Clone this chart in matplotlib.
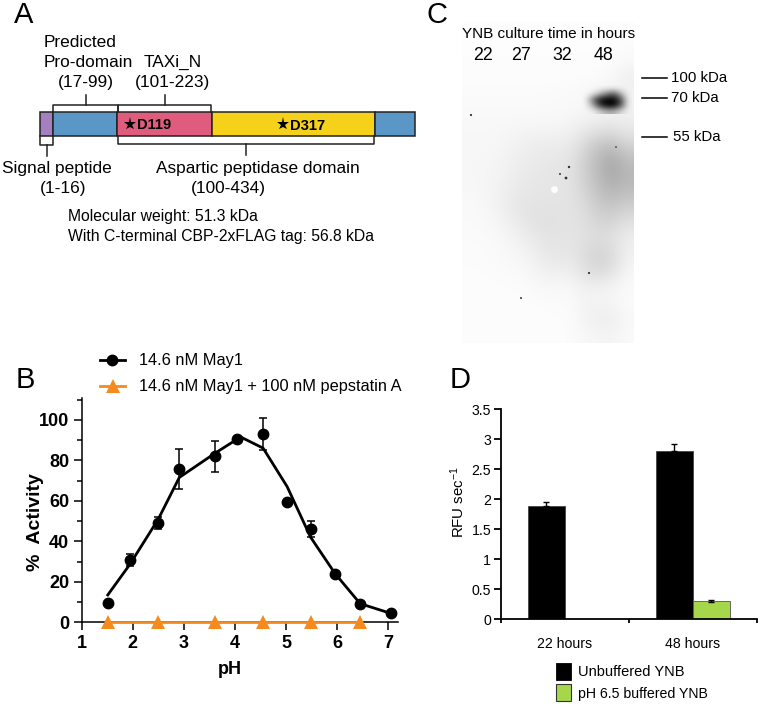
import matplotlib
matplotlib.use("Agg")
import matplotlib.pyplot as plt
import numpy as np
from matplotlib.patches import Rectangle

plt.rcParams["font.family"] = ["Liberation Sans", "DejaVu Sans"]
plt.rcParams["mathtext.default"] = "regular"

W, H = 760, 704

# Panel A - domain map, in residues
dom_start = [1, 17, 101, 224, 435]
dom_end = [17, 101, 224, 435, 487]
dom_colors = ["#A580BE", "#5B97C6", "#E05C7E", "#F6D11A", "#5B97C6"]

# Panel B - activity vs pH
ph = [1.51, 1.94, 2.50, 2.91, 3.61, 4.04, 4.55, 5.02, 5.48, 5.96, 6.45, 7.05]
activity = [9.7, 30.8, 48.9, 75.8, 81.9, 90.6, 93.0, 59.5, 46.0, 23.8, 9.2, 4.4]
activity_err = [0, 3, 3, 10, 7.7, 1, 7.7, 1, 3.8, 0, 0, 0]
fit_ph = [1.51, 1.94, 2.50, 2.91, 3.61, 4.11, 4.55, 5.02, 5.48, 5.96, 6.45, 7.05]
fit_activity = [13.5, 28.5, 51, 71.5, 83.5, 91.5, 86, 67, 42, 24, 9.2, 4.4]
pep_ph = [1.51, 2.50, 3.61, 4.55, 5.48, 6.45]
pep_activity = [0, 0, 0, 0, 0, 0]

# Panel C - blot darkness on a coarse grid, 0 = white
blot = [
    [2, 2, 2, 2, 2, 2, 2, 2, 2, 2, 2, 3],
    [3, 3, 3, 3, 3, 3, 3, 3, 3, 3, 3, 4],
    [3, 3, 3, 3, 3, 3, 3, 3, 3, 3, 4, 6],
    [3, 3, 3, 3, 3, 3, 3, 3, 4, 5, 8, 18],
    [5, 5, 5, 5, 5, 5, 6, 6, 8, 10, 12, 12],
    [6, 6, 6, 6, 6, 6, 6, 7, 8, 12, 14, 14],
    [8, 8, 8, 9, 9, 10, 10, 12, 18, 22, 24, 20],
    [8, 8, 9, 12, 16, 18, 18, 20, 34, 52, 56, 38],
    [9, 9, 11, 15, 20, 22, 24, 26, 46, 70, 85, 64],
    [9, 9, 12, 17, 22, 24, 26, 28, 46, 68, 88, 72],
    [8, 10, 14, 20, 24, 26, 26, 28, 42, 62, 74, 66],
    [6, 8, 14, 22, 28, 28, 28, 28, 35, 52, 58, 48],
    [6, 7, 10, 18, 26, 30, 30, 28, 32, 42, 42, 30],
    [5, 5, 7, 12, 18, 26, 28, 26, 30, 35, 30, 18],
    [4, 5, 6, 8, 12, 20, 26, 24, 35, 45, 38, 15],
    [4, 4, 5, 6, 8, 14, 18, 16, 30, 40, 30, 10],
    [3, 3, 4, 4, 5, 8, 8, 8, 15, 14, 12, 6],
    [3, 3, 3, 3, 4, 4, 5, 5, 12, 12, 10, 5],
    [3, 3, 3, 3, 3, 3, 4, 4, 12, 18, 18, 8],
    [3, 3, 3, 3, 3, 3, 3, 4, 8, 10, 12, 6],
]
band = [
    [0, 0, 0, 0, 0, 0, 0],
    [0, 10, 60, 120, 160, 60, 0],
    [0, 130, 235, 255, 255, 170, 0],
    [0, 70, 200, 255, 255, 160, 0],
    [0, 0, 30, 60, 60, 20, 0],
]
spot_x = [471, 569, 560, 566, 589, 521, 616]
spot_y = [115, 167, 174, 178, 273, 298, 147]
spot_s = [2.5, 3, 2, 4, 2.5, 2, 1.5]
marker_y = [78, 98, 137]
marker_labels = ["100 kDa", "70 kDa", "55 kDa"]
lanes = ["22", "27", "32", "48"]
lane_x = [483, 521, 562, 603]

# Panel D - activity bars
groups = ["22 hours", "48 hours"]
unbuffered = [1.89, 2.81]
unbuffered_err = [0.06, 0.11]
buffered = [np.nan, 0.31]
buffered_err = [np.nan, 0.02]

fig = plt.figure(figsize=(W / 100, H / 100), dpi=100)


def add_axes_px(left, top, right, bottom):
    return fig.add_axes([left / W, 1 - bottom / H, (right - left) / W, (bottom - top) / H])


# overlay in pixel coordinates, for the schematic and the labels
ov = fig.add_axes([0, 0, 1, 1], zorder=5)
ov.set_xlim(0, W)
ov.set_ylim(H, 0)
ov.axis("off")
ov.patch.set_alpha(0)


def res_px(r):
    return 40.3 + (r - 1) * 0.771


def label(x, y, s, size=12.4, ha="left", **kw):
    ov.text(x, y, s, fontsize=size, ha=ha, va="center", **kw)


# --- A
BAR_TOP, BAR_BOT = 112.3, 136.3
for a, b, c in zip(dom_start, dom_end, dom_colors):
    ov.add_patch(Rectangle((res_px(a), BAR_TOP), res_px(b) - res_px(a), BAR_BOT - BAR_TOP,
                           facecolor=c, edgecolor="#222222", linewidth=1.1))
bk = dict(color="#222222", linewidth=1.1)
ov.plot([53, 53, 118.3, 118.3], [BAR_TOP, 105.3, 105.3, BAR_TOP], **bk)
ov.plot([118.3, 118.3, 211.3, 211.3], [BAR_TOP, 105.3, 105.3, BAR_TOP], **bk)
ov.plot([85.7, 85.7], [95, 105.3], **bk)
ov.plot([165, 165], [95, 105.3], **bk)
ov.plot([40.3, 40.3, 53, 53], [BAR_BOT, 145, 145, BAR_BOT], **bk)
ov.plot([46.7, 46.7], [145, 156], **bk)
ov.plot([118.3, 118.3, 374.3, 374.3], [BAR_BOT, 144, 144, BAR_BOT], **bk)
ov.plot([246, 246], [144, 155], **bk)
ov.plot([130, 282.7], [124, 124], "*", color="black", markersize=9.5, markeredgewidth=0)
label(137.5, 125, "D119", size=10.6, fontweight="bold")
label(290, 125.5, "D317", size=10.6, fontweight="bold")

label(44, 42.7, "Predicted")
label(44, 62.7, "Pro-domain")
label(86, 83, "(17-99)", ha="center")
label(144, 62.7, "TAXi_N")
label(172, 83, "(101-223)", ha="center")
label(2, 168, "Signal peptide")
label(63, 188, "(1-16)", ha="center")
label(258, 168, "Aspartic peptidase domain", ha="center")
label(228, 189, "(100-434)", ha="center")
label(68, 217, "Molecular weight: 51.3 kDa", size=11.3)
label(68, 236, "With C-terminal CBP-2xFLAG tag: 56.8 kDa", size=11.3)

for x, y, s in [(14, 15, "A"), (16, 380, "B"), (427, 15, "C"), (450, 380, "D")]:
    label(x, y, s, size=21)

# --- B
ax_b = add_axes_px(81.7, 398.3, 398, 622.3)
ax_b.set_xlim(1, 1 + (398 - 81.7) / 51.1)
ax_b.set_ylim(0, 110.6)
ax_b.plot(fit_ph, fit_activity, color="black", linewidth=2, zorder=3)
err_x = [p for p, e in zip(ph, activity_err) if e > 0]
err_y = [a for a, e in zip(activity, activity_err) if e > 0]
err_v = [e for e in activity_err if e > 0]
ax_b.errorbar(err_x, err_y, yerr=err_v, fmt="none", ecolor="black", elinewidth=1.1,
              capsize=3.2, capthick=1.1, zorder=3)
ax_b.plot(ph, activity, "o", color="black", markersize=7.5, zorder=4, clip_on=False)
ax_b.plot(pep_ph, pep_activity, "-^", color="#F58A1F", markersize=10.5, linewidth=2,
          markeredgewidth=0, zorder=5, clip_on=False)
for side in ["top", "right"]:
    ax_b.spines[side].set_visible(False)
for side in ["left", "bottom"]:
    ax_b.spines[side].set_linewidth(1.1)
ax_b.set_xticks(range(1, 8))
ax_b.set_yticks(range(0, 101, 20))
ax_b.set_yticks(range(10, 111, 20), minor=True)
ax_b.tick_params(axis="both", which="major", length=6, width=1.1, labelsize=13, pad=3)
ax_b.tick_params(axis="y", which="minor", length=3.5, width=1.1)
for t in ax_b.get_xticklabels() + ax_b.get_yticklabels():
    t.set_fontweight("bold")
label(230, 669, "pH", size=13, ha="center", fontweight="bold")
ov.text(35, 522, "%  Activity", fontsize=14, fontweight="bold", rotation=90,
        ha="center", va="center")

ov.plot([100, 125], [360, 360], color="black", linewidth=2)
ov.plot([112], [360], "o", color="black", markersize=7.5)
ov.plot([100, 125], [386, 386], color="#F58A1F", linewidth=2)
ov.plot([113], [386], "^", color="#F58A1F", markersize=10.5, markeredgewidth=0)
label(139, 360, "14.6 nM May1", size=11.8)
label(139, 386, "14.6 nM May1 + 100 nM pepstatin A", size=11.8)

# --- C
ax_c = add_axes_px(462, 22, 634, 343)
ax_c.imshow(blot, cmap="gray_r", vmin=0, vmax=255, aspect="auto", interpolation="bicubic",
            extent=(462, 634, 343, 22))
band_rgba = np.zeros((len(band), len(band[0]), 4))
band_rgba[..., 3] = np.array(band) / 255
ax_c.imshow(band_rgba, aspect="auto", interpolation="bicubic", extent=(582, 632, 114, 85))
ax_c.scatter(spot_x, spot_y, s=spot_s, color="#333333", linewidths=0)
ax_c.scatter([554], [189], s=25, color="white", linewidths=0, alpha=0.9)
ax_c.set_xlim(462, 634)
ax_c.set_ylim(343, 22)
ax_c.axis("off")

label(549, 34, "YNB culture time in hours", size=11, ha="center")
for x, s in zip(lane_x, lanes):
    label(x, 55, s, size=12.8, ha="center")
for y, s, x in zip(marker_y, marker_labels, [671, 671, 673]):
    ov.plot([642, 667], [y, y], color="black", linewidth=1.1)
    label(x, y, s, size=10.8)

# --- D
ax_d = add_axes_px(501, 409.3, 756.7, 619.3)
x = np.arange(len(groups))
BAR_W = 0.29
ax_d.bar(x - BAR_W / 2, unbuffered, BAR_W, color="black", edgecolor="#444444", linewidth=0.6)
ax_d.bar(x + BAR_W / 2, buffered, BAR_W, color="#A6D64A", edgecolor="#555555", linewidth=0.6)
ax_d.errorbar(x - BAR_W / 2, unbuffered, yerr=[[0, 0], unbuffered_err], fmt="none",
              ecolor="black", elinewidth=1, capsize=2.5, capthick=1)
ax_d.errorbar(x + BAR_W / 2, buffered, yerr=buffered_err, fmt="none",
              ecolor="black", elinewidth=1, capsize=2, capthick=1)
ax_d.set_xlim(-0.5, 1.5)
ax_d.set_ylim(0, 3.5)
for side in ["top", "right"]:
    ax_d.spines[side].set_visible(False)
for side in ["left", "bottom"]:
    ax_d.spines[side].set_linewidth(1.3)
ax_d.set_yticks([0, 0.5, 1, 1.5, 2, 2.5, 3, 3.5])
ax_d.set_yticklabels(["0", "0.5", "1", "1.5", "2", "2.5", "3", "3.5"])
ax_d.set_xticks([-0.5, 0.5, 1.5])
ax_d.set_xticklabels([])
ax_d.set_xticks(x, minor=True)
ax_d.set_xticklabels(groups, minor=True)
ax_d.tick_params(axis="x", which="minor", length=0, labelsize=10.2, pad=13)
ax_d.tick_params(axis="x", which="major", length=3, width=1.3)
ax_d.tick_params(axis="y", length=5, width=1.3, labelsize=10.2, pad=2)
ov.text(458, 502, "RFU sec$^{-1}$", fontsize=10.8, rotation=90, ha="center", va="center")

ov.add_patch(Rectangle((556, 663), 15, 17, facecolor="black", edgecolor="black", linewidth=0.6))
ov.add_patch(Rectangle((556, 684), 15, 17, facecolor="#A6D64A", edgecolor="#333333", linewidth=0.8))
label(577.5, 672, "Unbuffered YNB", size=10.5)
label(577.5, 694, "pH 6.5 buffered YNB", size=10.2)

fig.savefig("out.png", dpi=100)
